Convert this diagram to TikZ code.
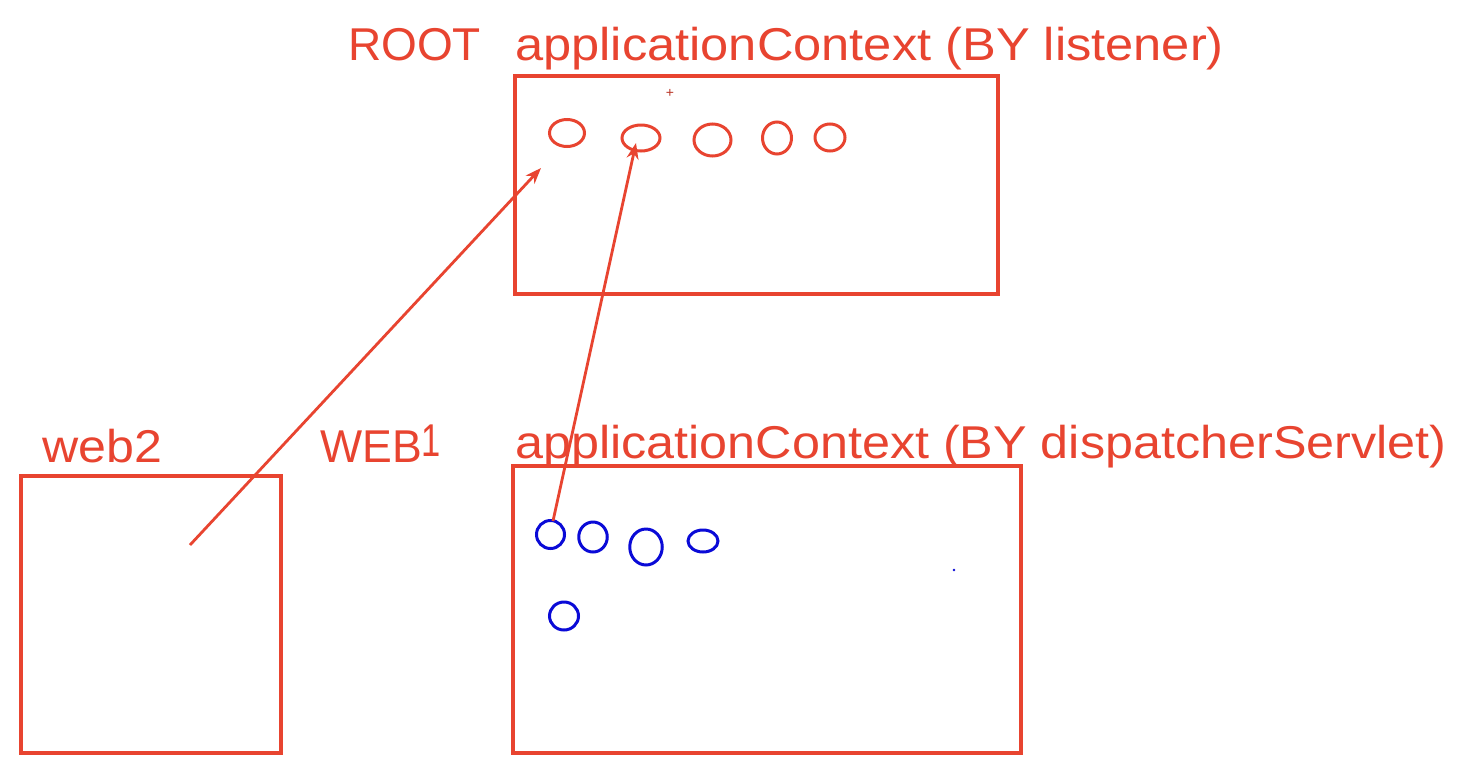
\documentclass[tikz,border=0pt]{standalone}
\usepackage{fontspec}
\setmainfont{Liberation Sans}
\usetikzlibrary{shapes.geometric,arrows.meta}
\definecolor{pred}{RGB}{232,68,48}
\definecolor{pblue}{RGB}{10,10,215}
\tikzset{
  box/.style={draw=pred,line width=3.4pt,inner sep=0pt},
  rc/.style={ellipse,draw=pred,line width=3pt,inner sep=0pt},
  bc/.style={ellipse,draw=pblue,line width=3pt,inner sep=0pt},
  lbl/.style={text=pred,anchor=base west,inner sep=0pt,font=\fontsize{46}{50}\selectfont},
  arr/.style={draw=pred,line width=2.8pt,-{Stealth[length=16pt,width=12pt]}},
}
\begin{document}
\begin{tikzpicture}[x=1pt,y=-1pt]
\useasboundingbox (0,0) rectangle (1467,769);
\fill[white] (0,0) rectangle (1467,769);
% boxes
\node[box,minimum width=483pt,minimum height=218pt] (root) at (756.5,185) {};
\node[box,minimum width=508pt,minimum height=287pt] (disp) at (767,609.5) {};
\node[box,minimum width=260pt,minimum height=277pt] (web2) at (151,614.5) {};
% labels
\node[lbl] (t0) at (348,60) {ROOT};
\node[lbl] (t1) at (515,60) {\scalebox{1.1}[1]{applicationContext (BY listener)}};
\node[lbl] (t2) at (515,458) {\scalebox{1.094}[1]{applicationContext (BY dispatcherServlet)}};
\node[lbl] (t3) at (42,462) {\scalebox{1.09}[1]{web2}};
\node[lbl] (t4) at (320,462) {\scalebox{0.97}[1]{WEB}\raisebox{6pt}{\scalebox{0.75}[1]{1}}};
% red circles
\node[rc,minimum width=35pt,minimum height=27pt] (r1) at (567,133) {};
\node[rc,minimum width=38pt,minimum height=26pt] (r2) at (641,138) {};
\node[rc,minimum width=37pt,minimum height=32pt] (r3) at (712.5,140) {};
\node[rc,minimum width=29pt,minimum height=32pt] (r4) at (777,138) {};
\node[rc,minimum width=30pt,minimum height=27pt] (r5) at (830,137.5) {};
% plus
\node[text=pred!80!black,inner sep=0pt,font=\fontsize{14}{14}\selectfont] (plus) at (670,93) {+};
% blue circles
\node[bc,minimum width=28pt,minimum height=28pt] (b1) at (550.5,534.5) {};
\node[bc,minimum width=28.5pt,minimum height=30pt] (b2) at (593,537) {};
\node[bc,minimum width=32.5pt,minimum height=36pt] (b3) at (646,547) {};
\node[bc,minimum width=30pt,minimum height=22pt] (b4) at (703,541) {};
\node[bc,minimum width=29pt,minimum height=28pt] (b5) at (564,616) {};
\fill[pblue] (954,570) circle (1.4pt);
% connectors
\coordinate (s1) at (190,545);
\coordinate (e1) at (541,168);
\coordinate (s2) at (553,521);
\coordinate (e2) at (636,143);
\draw[arr] (s1) -- (e1);
\draw[arr] (s2) -- (e2);
\end{tikzpicture}
\end{document}
